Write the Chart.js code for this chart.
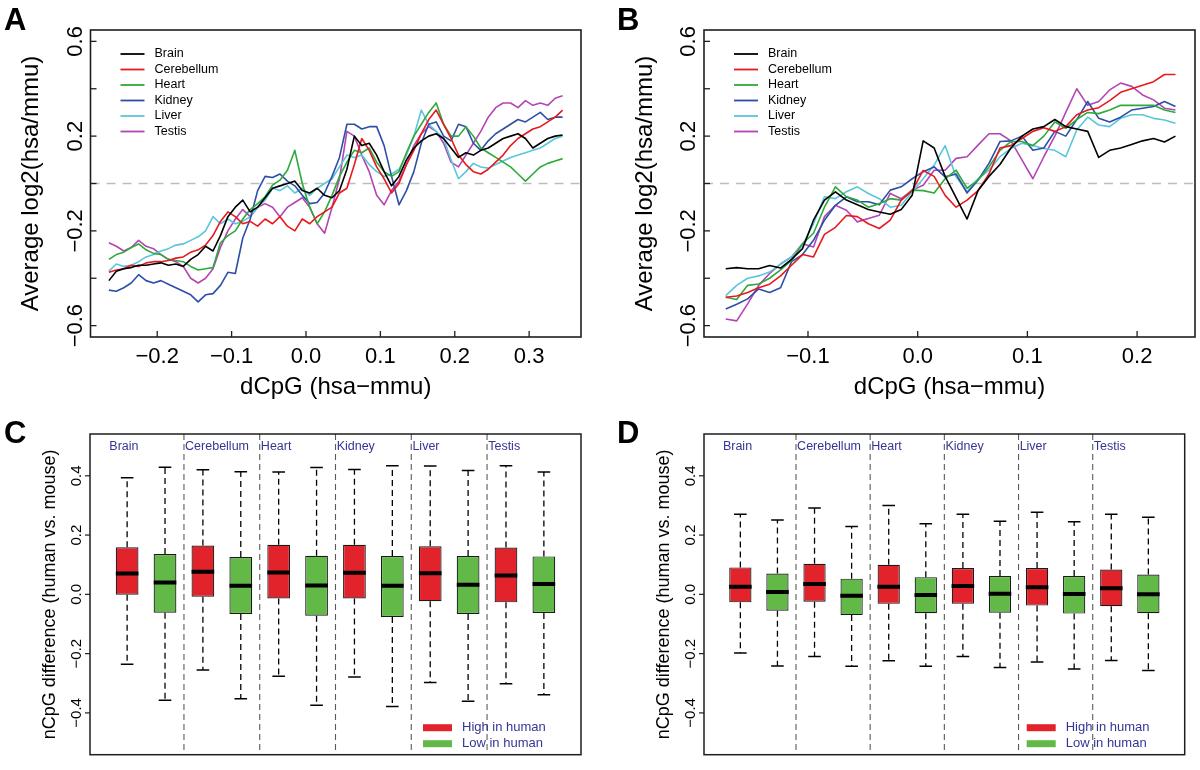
<!DOCTYPE html>
<html><head><meta charset="utf-8">
<script src="https://cdn.jsdelivr.net/npm/chart.js@4.4.1/dist/chart.umd.min.js"></script>
<style>
html,body{margin:0;padding:0;background:#fff;}
#wrap{position:relative;width:1200px;height:770px;overflow:hidden;background:#fff;}
canvas{position:absolute;}
</style></head><body>
<div id="wrap">
<canvas id="cA" width="600" height="405" style="left:0;top:0"></canvas>
<canvas id="cB" width="600" height="405" style="left:600px;top:0"></canvas>
<canvas id="cC" width="600" height="365" style="left:0;top:405px"></canvas>
<canvas id="cD" width="600" height="365" style="left:600px;top:405px"></canvas>
</div>
<script>
// ---------------- DATA ----------------
const tissues = ["Brain","Cerebellum","Heart","Kidney","Liver","Testis"];

const xA = [-0.265,-0.255,-0.245,-0.235,-0.225,-0.215,-0.205,-0.195,-0.185,-0.175,
 -0.165,-0.155,-0.145,-0.135,-0.125,-0.115,-0.105,-0.095,-0.085,-0.075,
 -0.065,-0.055,-0.045,-0.035,-0.025,-0.015,-0.005,0.005,0.015,0.025,
 0.035,0.045,0.055,0.065,0.075,0.085,0.095,0.105,0.115,0.125,
 0.135,0.145,0.155,0.165,0.175,0.185,0.195,0.205,0.215,0.225,
 0.235,0.245,0.255,0.265,0.275,0.285,0.295,0.305,0.315,0.325,
 0.335,0.345];
const brainA = [-0.41,-0.37,-0.36,-0.355,-0.345,-0.345,-0.34,-0.335,-0.345,-0.34,
 -0.35,-0.32,-0.30,-0.265,-0.285,-0.22,-0.14,-0.10,-0.07,-0.12,
 -0.10,-0.06,-0.02,-0.01,0.00,0.01,-0.03,-0.04,-0.02,-0.05,
 -0.06,-0.03,0.06,0.20,0.16,0.17,0.12,0.05,-0.01,0.03,
 0.10,0.15,0.18,0.20,0.21,0.19,0.15,0.11,0.13,0.12,
 0.14,0.15,0.17,0.19,0.20,0.21,0.19,0.15,0.17,0.19,
 0.20,0.205];
const cerebellumA = [-0.375,-0.365,-0.36,-0.345,-0.35,-0.335,-0.33,-0.33,-0.325,-0.315,
 -0.31,-0.29,-0.28,-0.26,-0.22,-0.16,-0.12,-0.14,-0.17,-0.16,
 -0.18,-0.15,-0.17,-0.14,-0.18,-0.20,-0.15,-0.17,-0.14,-0.12,
 -0.10,-0.04,-0.02,0.08,0.19,0.14,0.07,0.02,-0.04,0.00,
 0.08,0.14,0.21,0.27,0.31,0.25,0.19,0.12,0.08,0.05,
 0.04,0.06,0.09,0.12,0.16,0.19,0.21,0.23,0.24,0.26,
 0.28,0.31];
const heartA = [-0.32,-0.30,-0.29,-0.27,-0.255,-0.28,-0.295,-0.30,-0.32,-0.325,
 -0.33,-0.35,-0.365,-0.36,-0.355,-0.25,-0.22,-0.20,-0.15,-0.11,
 -0.085,-0.056,-0.007,0.014,0.056,0.14,0.00,-0.10,-0.17,-0.12,
 -0.05,0.03,0.09,0.14,0.13,0.15,0.09,0.05,0.03,0.05,
 0.13,0.20,0.25,0.30,0.34,0.25,0.20,0.20,0.24,0.20,
 0.15,0.13,0.11,0.09,0.07,0.04,0.01,0.04,0.07,0.085,
 0.095,0.105];
const kidneyA = [-0.45,-0.455,-0.44,-0.42,-0.385,-0.41,-0.42,-0.41,-0.425,-0.44,
 -0.455,-0.47,-0.50,-0.47,-0.465,-0.43,-0.375,-0.38,-0.23,-0.15,
 -0.03,0.03,0.025,0.04,0.01,-0.01,-0.05,-0.085,-0.08,-0.04,
 0.03,0.11,0.25,0.25,0.23,0.24,0.24,0.16,0.03,-0.09,
 -0.03,0.05,0.17,0.25,0.26,0.20,0.18,0.25,0.24,0.17,
 0.14,0.18,0.21,0.23,0.25,0.27,0.26,0.28,0.30,0.27,
 0.28,0.28];
const liverA = [-0.37,-0.34,-0.35,-0.345,-0.33,-0.31,-0.30,-0.285,-0.275,-0.26,
 -0.255,-0.24,-0.225,-0.20,-0.14,-0.17,-0.15,-0.17,-0.16,-0.14,
 -0.10,-0.07,-0.02,-0.03,-0.01,-0.04,-0.02,-0.05,-0.02,0.00,
 0.02,0.07,0.12,0.11,0.12,0.08,0.05,0.03,0.04,0.06,
 0.12,0.20,0.31,0.25,0.22,0.19,0.10,0.02,0.05,0.085,
 0.07,0.065,0.08,0.095,0.11,0.12,0.13,0.14,0.15,0.17,
 0.19,0.20];
const testisA = [-0.25,-0.265,-0.285,-0.27,-0.24,-0.265,-0.275,-0.30,-0.32,-0.33,
 -0.35,-0.40,-0.42,-0.40,-0.36,-0.27,-0.20,-0.15,-0.11,-0.14,
 -0.10,-0.085,-0.10,-0.14,-0.10,-0.08,-0.06,-0.10,-0.17,-0.21,
 -0.10,0.02,0.22,0.20,0.12,0.05,-0.05,-0.09,-0.03,0.01,
 0.08,0.16,0.21,0.24,0.22,0.17,0.09,0.07,0.12,0.17,
 0.22,0.28,0.32,0.34,0.34,0.32,0.35,0.33,0.34,0.33,
 0.36,0.37];

const xB = [-0.175,-0.165,-0.155,-0.145,-0.135,-0.125,-0.115,-0.105,-0.095,-0.085,
 -0.075,-0.065,-0.055,-0.045,-0.035,-0.025,-0.015,-0.005,0.005,0.015,
 0.025,0.035,0.045,0.055,0.065,0.075,0.085,0.095,0.105,0.115,
 0.125,0.135,0.145,0.155,0.165,0.175,0.185,0.195,0.205,0.215,
 0.225,0.235];
const brainB = [-0.36,-0.355,-0.36,-0.36,-0.346,-0.357,-0.32,-0.275,-0.155,-0.07,
 -0.035,-0.07,-0.09,-0.11,-0.12,-0.13,-0.11,-0.05,0.18,0.15,
 0.03,-0.06,-0.15,-0.03,0.03,0.08,0.15,0.20,0.23,0.24,
 0.27,0.24,0.23,0.22,0.11,0.14,0.15,0.165,0.18,0.19,
 0.175,0.20];
const cerebellumB = [-0.48,-0.475,-0.46,-0.44,-0.425,-0.39,-0.345,-0.30,-0.31,-0.215,
 -0.185,-0.135,-0.14,-0.17,-0.19,-0.155,-0.07,-0.03,0.055,0.03,
 -0.05,-0.10,-0.07,-0.03,0.04,0.15,0.16,0.19,0.22,0.235,
 0.22,0.24,0.29,0.31,0.32,0.35,0.385,0.40,0.415,0.43,
 0.46,0.46];
const heartB = [-0.48,-0.49,-0.43,-0.424,-0.40,-0.365,-0.325,-0.254,-0.21,-0.10,
 -0.014,-0.056,-0.07,-0.10,-0.085,-0.064,-0.07,-0.028,-0.03,-0.04,
 0.02,0.056,-0.02,0.014,0.07,0.14,0.177,0.177,0.16,0.20,
 0.26,0.233,0.27,0.30,0.295,0.31,0.33,0.33,0.33,0.33,
 0.31,0.30];
const kidneyB = [-0.53,-0.51,-0.487,-0.445,-0.46,-0.44,-0.33,-0.30,-0.24,-0.155,
 -0.092,-0.056,-0.077,-0.077,-0.09,-0.028,-0.014,0.02,0.05,0.07,
 0.028,0.04,-0.04,0.014,0.085,0.177,0.18,0.20,0.14,0.15,
 0.22,0.20,0.27,0.346,0.275,0.26,0.28,0.31,0.318,0.325,
 0.346,0.325];
const liverB = [-0.473,-0.43,-0.40,-0.39,-0.374,-0.34,-0.31,-0.26,-0.17,-0.056,
 -0.064,-0.035,-0.014,-0.042,-0.064,-0.10,-0.092,-0.035,0.02,0.078,
 0.16,0.028,-0.035,0.02,0.056,0.113,0.148,0.17,0.16,0.148,
 0.14,0.113,0.226,0.28,0.247,0.24,0.275,0.29,0.29,0.275,
 0.268,0.254];
const testisB = [-0.572,-0.58,-0.508,-0.43,-0.38,-0.34,-0.31,-0.254,-0.268,-0.14,
 -0.092,-0.113,-0.162,-0.148,-0.134,-0.042,-0.064,-0.028,-0.007,0.056,
 0.056,0.106,0.113,0.162,0.21,0.21,0.18,0.10,0.02,0.113,
 0.20,0.30,0.40,0.33,0.346,0.395,0.424,0.41,0.374,0.353,
 0.318,0.31];

const xTicksA = [-0.2,-0.1,0,0.1,0.2,0.3];
const xTickLabelsA = ["\u22120.2","\u22120.1","0.0","0.1","0.2","0.3"];
const xTicksB = [-0.1,0,0.1,0.2];
const xTickLabelsB = ["\u22120.1","0.0","0.1","0.2"];
const yTicksAB = [-0.6,-0.4,-0.2,0,0.2,0.4,0.6];
const yLabelValsAB = [-0.6,-0.2,0.2,0.6];
const yLabelTextAB = ["\u22120.6","\u22120.2","0.2","0.6"];

// box plots: order = Brain high, Brain low, Cerebellum high, ...
const boxPos = [1,2,3,4,5,6,7,8,9,10,11,12];
const groupLabels = ["High in human","Low in human"];
const separators = [2.5,4.5,6.5,8.5,10.5];
const tissueLabelPos = [0.53,2.53,4.53,6.53,8.53,10.53];
const upperC = [0.393,0.429,0.420,0.414,0.413,0.428,0.421,0.434,0.433,0.418,0.434,0.413];
const q3C    = [0.159,0.136,0.165,0.126,0.167,0.130,0.167,0.129,0.162,0.129,0.158,0.128];
const medC   = [0.070,0.040,0.076,0.029,0.074,0.030,0.073,0.029,0.071,0.032,0.064,0.035];
const q1C    = [-0.001,-0.062,-0.008,-0.066,-0.014,-0.072,-0.014,-0.076,-0.023,-0.066,-0.027,-0.063];
const lowerC = [-0.236,-0.357,-0.255,-0.352,-0.276,-0.374,-0.279,-0.378,-0.297,-0.361,-0.302,-0.339];
const upperD = [0.270,0.251,0.291,0.229,0.300,0.238,0.270,0.247,0.277,0.245,0.270,0.260];
const q3D    = [0.091,0.070,0.103,0.053,0.100,0.058,0.089,0.062,0.089,0.062,0.084,0.067];
const medD   = [0.026,0.008,0.035,-0.005,0.026,-0.002,0.028,0.002,0.024,0.001,0.021,0.000];
const q1D    = [-0.027,-0.055,-0.025,-0.070,-0.032,-0.064,-0.032,-0.062,-0.038,-0.065,-0.040,-0.064];
const lowerD = [-0.198,-0.242,-0.210,-0.243,-0.224,-0.243,-0.210,-0.247,-0.228,-0.252,-0.223,-0.257];
const yTicksCD = [-0.4,-0.2,0,0.2,0.4];
const yTickLabelsCD = ["\u22120.4","\u22120.2","0.0","0.2","0.4"];

// ---------------- STYLE ----------------
const FF = "'Liberation Sans', Arial, Helvetica, sans-serif";
const lineColors = ["#000000","#E8191E","#2EAA3A","#2E4FA8","#5BC6DA","#B444B4"];
const boxColors = ["#E3232B","#63B947"];
const labelBlue = "#353596";
Chart.defaults.font.family = FF;
Chart.defaults.animation = false;

function lineDecor(o){
  return {
    id:'lineDecor',
    beforeDatasetsDraw(chart){
      const {ctx, chartArea:ca, scales:{y}} = chart;
      const py = y.getPixelForValue(0);
      ctx.save(); ctx.strokeStyle='#BDBDBD'; ctx.lineWidth=1.3; ctx.setLineDash([9,7]);
      ctx.beginPath(); ctx.moveTo(ca.left,py); ctx.lineTo(ca.right,py); ctx.stroke(); ctx.restore();
    },
    afterDraw(chart){
      const {ctx, chartArea:ca, scales:{x,y}} = chart;
      ctx.save();
      ctx.setLineDash([]);
      ctx.strokeStyle='#1e1e1e'; ctx.lineWidth=1.6;
      ctx.strokeRect(ca.left,ca.top,ca.right-ca.left,ca.bottom-ca.top);
      ctx.lineWidth=1.3; ctx.fillStyle='#000';
      ctx.font='22px '+FF; ctx.textAlign='center'; ctx.textBaseline='alphabetic';
      o.xTicks.forEach((v,i)=>{
        const px=x.getPixelForValue(v);
        ctx.beginPath(); ctx.moveTo(px,ca.bottom); ctx.lineTo(px,ca.bottom-6); ctx.stroke();
        ctx.fillText(o.xLabels[i],px,ca.bottom+26);
      });
      yTicksAB.forEach(v=>{
        const py=y.getPixelForValue(v);
        ctx.beginPath(); ctx.moveTo(ca.left,py); ctx.lineTo(ca.left+6,py); ctx.stroke();
      });
      yLabelValsAB.forEach((v,i)=>{
        const py=y.getPixelForValue(v);
        ctx.save(); ctx.translate(ca.left-9,py); ctx.rotate(-Math.PI/2);
        ctx.fillText(yLabelTextAB[i],0,0); ctx.restore();
      });
      ctx.font='24px '+FF;
      ctx.fillText('dCpG (hsa\u2212mmu)',(ca.left+ca.right)/2,ca.bottom+57);
      ctx.save(); ctx.translate(ca.left-59,(ca.top+ca.bottom)/2); ctx.rotate(-Math.PI/2);
      ctx.textBaseline='middle'; ctx.fillText('Average log2(hsa/mmu)',0,0); ctx.restore();
      ctx.font='bold 31px '+FF; ctx.textAlign='left';
      ctx.fillText(o.letter,o.letterX,30);
      ctx.font='12.5px '+FF; ctx.textBaseline='middle';
      chart.data.datasets.forEach((ds,i)=>{
        const ly=ca.top+24+i*15.5;
        ctx.strokeStyle=ds.borderColor; ctx.lineWidth=1.8;
        ctx.beginPath(); ctx.moveTo(ca.left+30,ly); ctx.lineTo(ca.left+54,ly); ctx.stroke();
        ctx.fillStyle='#000'; ctx.fillText(ds.label,ca.left+64,ly);
      });
      ctx.restore();
    }
  };
}

function makeLine(id, xs, series, xr, pad, o){
  const datasets = series.map((s,i)=>({
    label: tissues[i],
    data: xs.map((xv,k)=>({x:xv,y:s[k]})),
    borderColor: lineColors[i], borderWidth:1.6, pointRadius:0, tension:0,
    borderJoinStyle:'round', fill:false
  }));
  new Chart(document.getElementById(id),{
    type:'line',
    data:{datasets},
    options:{
      responsive:false, animation:false, events:[],
      layout:{padding:pad},
      plugins:{legend:{display:false},tooltip:{enabled:false}},
      scales:{
        x:{type:'linear',min:xr[0],max:xr[1],display:false,offset:false},
        y:{type:'linear',min:-0.648,max:0.648,display:false}
      }
    },
    plugins:[lineDecor(o)]
  });
}

makeLine('cA', xA, [brainA,cerebellumA,heartA,kidneyA,liverA,testisA], [-0.2897,0.3697],
  {left:90.5,right:19,top:30,bottom:68}, {xTicks:xTicksA,xLabels:xTickLabelsA,letter:'A',letterX:4});
makeLine('cB', xB, [brainB,cerebellumB,heartB,kidneyB,liverB,testisB], [-0.1948,0.2528],
  {left:104,right:5,top:30,bottom:68}, {xTicks:xTicksB,xLabels:xTickLabelsB,letter:'B',letterX:17});

function boxDecor(o){
  return {
    id:'boxDecor',
    beforeDatasetsDraw(chart){
      const {ctx, chartArea:ca, scales:{x}} = chart;
      ctx.save(); ctx.strokeStyle='#5a5a5a'; ctx.lineWidth=1.1; ctx.setLineDash([6,4]);
      separators.forEach(v=>{
        const px=x.getPixelForValue(v);
        ctx.beginPath(); ctx.moveTo(px,ca.top); ctx.lineTo(px,ca.bottom); ctx.stroke();
      });
      ctx.restore();
    },
    afterDraw(chart){
      const {ctx, chartArea:ca, scales:{x,y}} = chart;
      ctx.save(); ctx.setLineDash([]);
      ctx.strokeStyle='#1e1e1e'; ctx.lineWidth=1.5;
      ctx.strokeRect(ca.left,ca.top,ca.right-ca.left,ca.bottom-ca.top);
      ctx.lineWidth=1.2; ctx.fillStyle='#000';
      ctx.font='15px '+FF; ctx.textAlign='center'; ctx.textBaseline='alphabetic';
      yTicksCD.forEach((v,i)=>{
        const py=y.getPixelForValue(v);
        ctx.beginPath(); ctx.moveTo(ca.left,py); ctx.lineTo(ca.left-5,py); ctx.stroke();
        ctx.save(); ctx.translate(ca.left-9,py); ctx.rotate(-Math.PI/2);
        ctx.fillText(yTickLabelsCD[i],0,0); ctx.restore();
      });
      ctx.font='18px '+FF;
      ctx.save(); ctx.translate(ca.left-40,(ca.top+ca.bottom)/2); ctx.rotate(-Math.PI/2);
      ctx.textBaseline='middle'; ctx.fillText('nCpG difference (human vs. mouse)',0,0); ctx.restore();
      ctx.font='bold 31px '+FF; ctx.textAlign='left'; ctx.textBaseline='alphabetic';
      ctx.fillText(o.letter,o.letterX,38);
      ctx.fillStyle=labelBlue; ctx.font='12.5px '+FF; ctx.textBaseline='middle';
      tissues.forEach((t,i)=>{
        ctx.fillText(t,x.getPixelForValue(tissueLabelPos[i]),y.getPixelForValue(0.50));
      });
      ctx.font='13px '+FF;
      groupLabels.forEach((g,i)=>{
        const ly=ca.bottom-27+i*16;
        ctx.strokeStyle=boxColors[i]; ctx.lineWidth=7;
        ctx.beginPath(); ctx.moveTo(ca.right-158,ly); ctx.lineTo(ca.right-129,ly); ctx.stroke();
        ctx.fillStyle=labelBlue; ctx.fillText(g,ca.right-119,ly);
      });
      ctx.restore();
    }
  };
}

function makeBox(id, up, q3, med, q1, lo, pad, o){
  const whisk=[];
  boxPos.forEach((p,i)=>{
    whisk.push({x:p,y:q3[i]},{x:p,y:up[i]},{x:p,y:null},{x:p,y:q1[i]},{x:p,y:lo[i]},{x:p,y:null});
  });
  const caps=[];
  boxPos.forEach((p,i)=>{ caps.push({x:p,y:up[i]},{x:p,y:lo[i]}); });
  new Chart(document.getElementById(id),{
    type:'bar',
    data:{datasets:[
      {type:'line',label:'whiskers',data:whisk,borderColor:'#000',borderWidth:1.3,borderDash:[6,4],
       pointRadius:0,spanGaps:false,order:4},
      {type:'bar',label:'boxes',data:boxPos.map((p,i)=>({x:p,y:[q1[i],q3[i]]})),
       backgroundColor:boxPos.map((p,i)=>boxColors[i%2]),borderColor:'#1a1a1a',borderWidth:1.2,
       borderSkipped:false,categoryPercentage:1,barPercentage:0.6,order:3},
      {type:'scatter',label:'caps',data:caps,pointStyle:'line',pointRadius:6.3,
       pointBorderWidth:1.5,pointBorderColor:'#000',order:2},
      {type:'scatter',label:'medians',data:boxPos.map((p,i)=>({x:p,y:med[i]})),pointStyle:'line',
       pointRadius:11.3,pointBorderWidth:4,pointBorderColor:'#000',order:1}
    ]},
    options:{
      responsive:false, animation:false, events:[],
      layout:{padding:pad},
      plugins:{legend:{display:false},tooltip:{enabled:false}},
      scales:{
        x:{type:'linear',min:0.02,max:12.98,display:false,offset:false,grid:{offset:false}},
        y:{type:'linear',min:-0.541,max:0.541,display:false}
      }
    },
    plugins:[boxDecor(o)]
  });
}

makeBox('cC', upperC,q3C,medC,q1C,lowerC, {left:90,right:19,top:29,bottom:4}, {letter:'C',letterX:4});
makeBox('cD', upperD,q3D,medD,q1D,lowerD, {left:104,right:5,top:29,bottom:4}, {letter:'D',letterX:17});
</script>
</body></html>
